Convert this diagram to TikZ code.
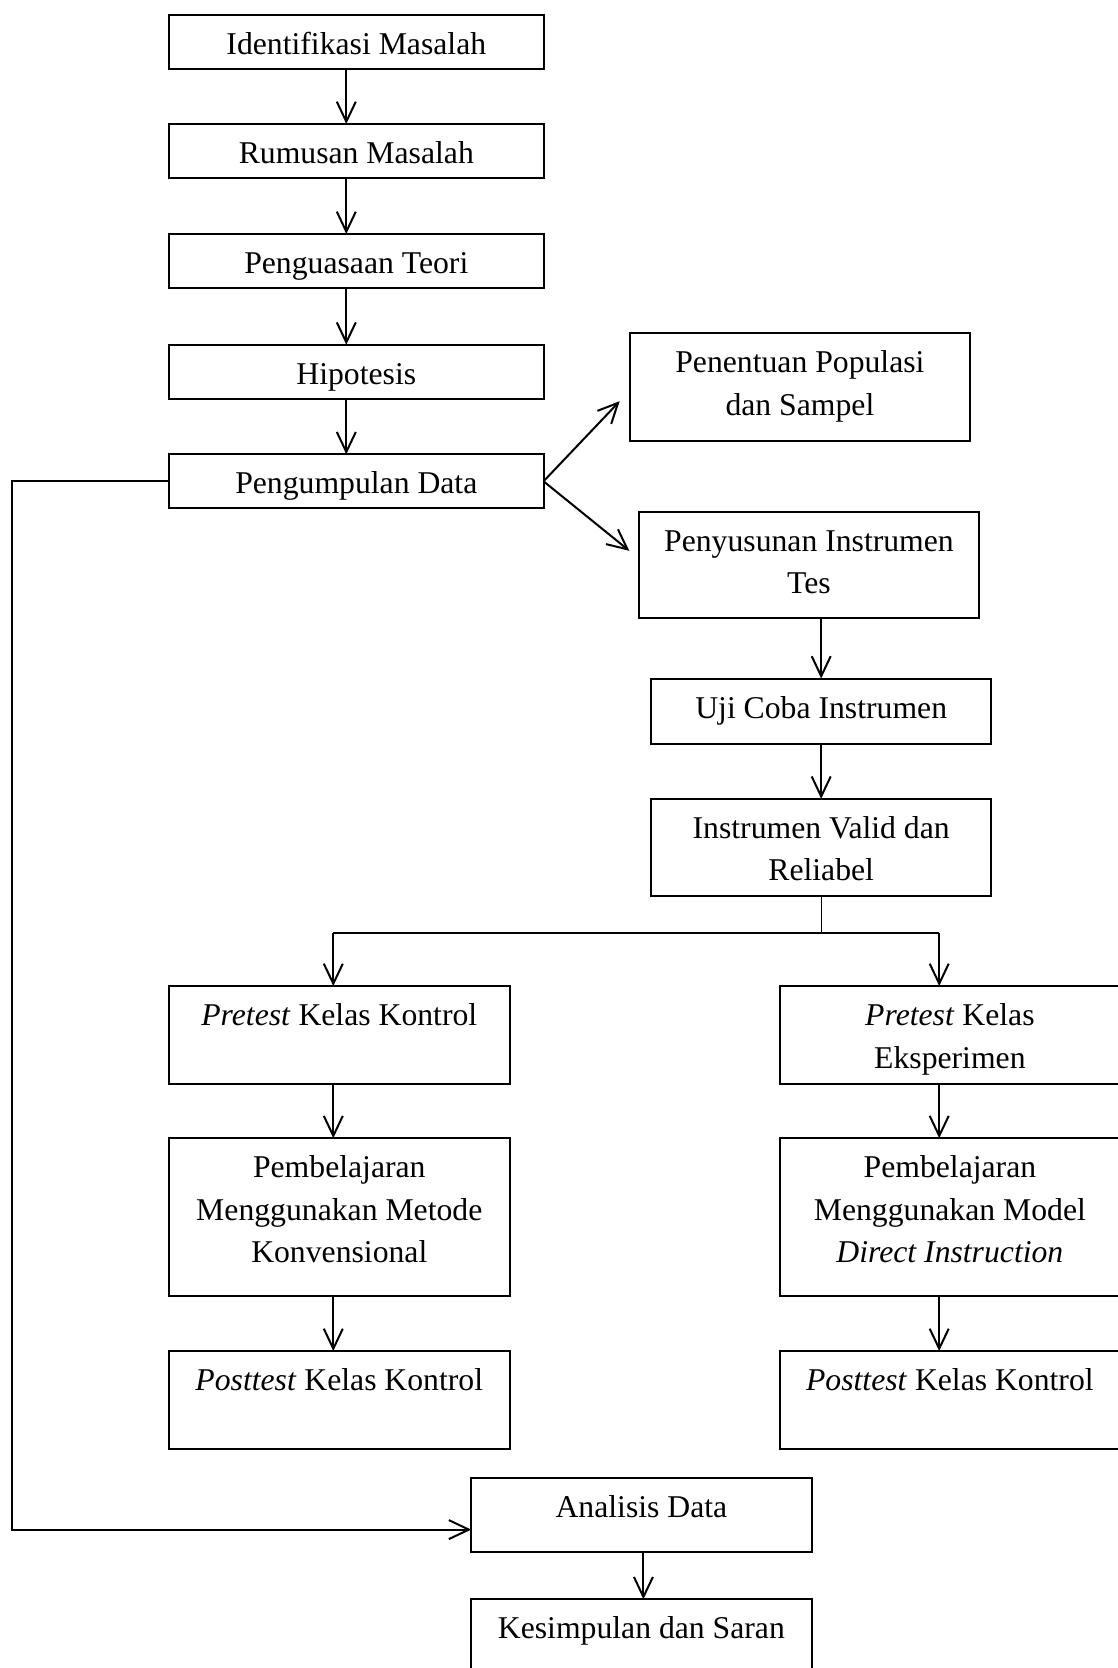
\documentclass[tikz,border=0pt]{standalone}
\usepackage{fontspec}
\setmainfont{Liberation Serif}
\usetikzlibrary{arrows.meta}
\newcommand\boxtxt[3]{\parbox[c][#2][t]{#1}{\centering\rule{0pt}{39.5pt}#3}}
\begin{document}
\begin{tikzpicture}[x=1pt,y=-1pt,
  box/.style={draw, line width=2pt, inner sep=0pt, outer sep=0pt,
    font=\fontsize{31.7}{42.5}\selectfont},
  conn/.style={line width=2pt},
  arr/.style={line width=2pt, -{Straight Barb[length=20pt,width=19pt,line width=2pt]}}]
\useasboundingbox (0,0) rectangle (1118,1668);
\clip (0,0) rectangle (1118,1668);

% main column
\node[box] (idm) at (356.3,41.5) {\boxtxt{374.5pt}{54pt}{Identifikasi Masalah}};
\node[box] (rum) at (356.3,151) {\boxtxt{374.5pt}{54pt}{Rumusan Masalah}};
\node[box] (pen) at (356.3,261) {\boxtxt{374.5pt}{54pt}{Penguasaan Teori}};
\node[box] (hip) at (356.3,371.7) {\boxtxt{374.5pt}{54pt}{Hipotesis}};
\node[box] (pgd) at (356.3,481.3) {\boxtxt{374.5pt}{54pt}{Pengumpulan Data}};

% right branch
\node[box] (pop) at (799.9,387.2) {\boxtxt{340.4pt}{108.4pt}{Penentuan Populasi\\dan Sampel}};
\node[box] (pys) at (809,564.8) {\boxtxt{339.3pt}{106.4pt}{Penyusunan Instrumen\\Tes}};
\node[box] (uji) at (821.2,711) {\boxtxt{340.4pt}{65pt}{Uji Coba Instrumen}};
\node[box] (val) at (821.2,847.2) {\boxtxt{340.4pt}{96.8pt}{Instrumen Valid dan\\Reliabel}};

% two columns
\node[box] (prl) at (339.3,1035) {\boxtxt{340.4pt}{98pt}{\textit{Pretest} Kelas Kontrol}};
\node[box] (prr) at (949.9,1035) {\boxtxt{340.4pt}{98pt}{\textit{Pretest} Kelas\\Eksperimen}};
\node[box] (pbl) at (339.3,1216.9) {\boxtxt{340.4pt}{157.4pt}{Pembelajaran\\Menggunakan Metode\\Konvensional}};
\node[box] (pbr) at (949.9,1216.9) {\boxtxt{340.4pt}{157.4pt}{Pembelajaran\\Menggunakan Model\\\textit{Direct Instruction}}};
\node[box] (psl) at (339.3,1399.9) {\boxtxt{340.4pt}{97.8pt}{\textit{Posttest} Kelas Kontrol}};
\node[box] (psr) at (949.9,1399.9) {\boxtxt{340.4pt}{97.8pt}{\textit{Posttest} Kelas Kontrol}};

% bottom
\node[box] (ana) at (641.4,1514.75) {\boxtxt{340.4pt}{74.5pt}{Analisis Data}};
\node[box] (kes) at (641.4,1636.5) {\boxtxt{340.4pt}{74.5pt}{Kesimpulan dan Saran}};

% connectors main column
\draw[arr] ([xshift=-10pt]idm.south) -- ([xshift=-10pt]rum.north);
\draw[arr] ([xshift=-10pt]rum.south) -- ([xshift=-10pt]pen.north);
\draw[arr] ([xshift=-10pt]pen.south) -- ([xshift=-10pt]hip.north);
\draw[arr] ([xshift=-10pt]hip.south) -- ([xshift=-10pt]pgd.north);

% branch
\draw[arr] (pgd.east) -- ([xshift=-10pt,yshift=-14pt]pop.west);
\draw[arr] (pgd.east) -- ([xshift=-10pt,yshift=14pt]pys.west);
\draw[arr] (pys.south -| uji.north) -- (uji.north);
\draw[arr] (uji.south) -- (val.north);

% split
\coordinate (split) at ([yshift=-37.3pt]val.south);
\coordinate (pla) at ([xshift=-6pt]prl.north);
\coordinate (pra) at ([xshift=-10.7pt]prr.north);
\draw[line width=1pt] (val.south) -- (split);
\draw[conn] (split -| pla) -- (split -| pra);
\draw[arr] (split -| pla) -- (pla);
\draw[arr] (split -| pra) -- (pra);

% columns
\draw[arr] ([xshift=-6pt]prl.south) -- ([xshift=-6pt]pbl.north);
\draw[arr] ([xshift=-6pt]pbl.south) -- ([xshift=-6pt]psl.north);
\draw[arr] ([xshift=-10.7pt]prr.south) -- ([xshift=-10.7pt]pbr.north);
\draw[arr] ([xshift=-10.7pt]pbr.south) -- ([xshift=-10.7pt]psr.north);

% loop to analysis
\coordinate (lx) at (11.7,0);
\coordinate (ain) at ([yshift=-14.85pt]ana.west);
\draw[arr] (pgd.west) -- (pgd.west -| lx) -- (ain -| lx) -- (ain);
\draw[arr] ([xshift=2pt]ana.south) -- ([xshift=2pt]kes.north);
\end{tikzpicture}
\end{document}
